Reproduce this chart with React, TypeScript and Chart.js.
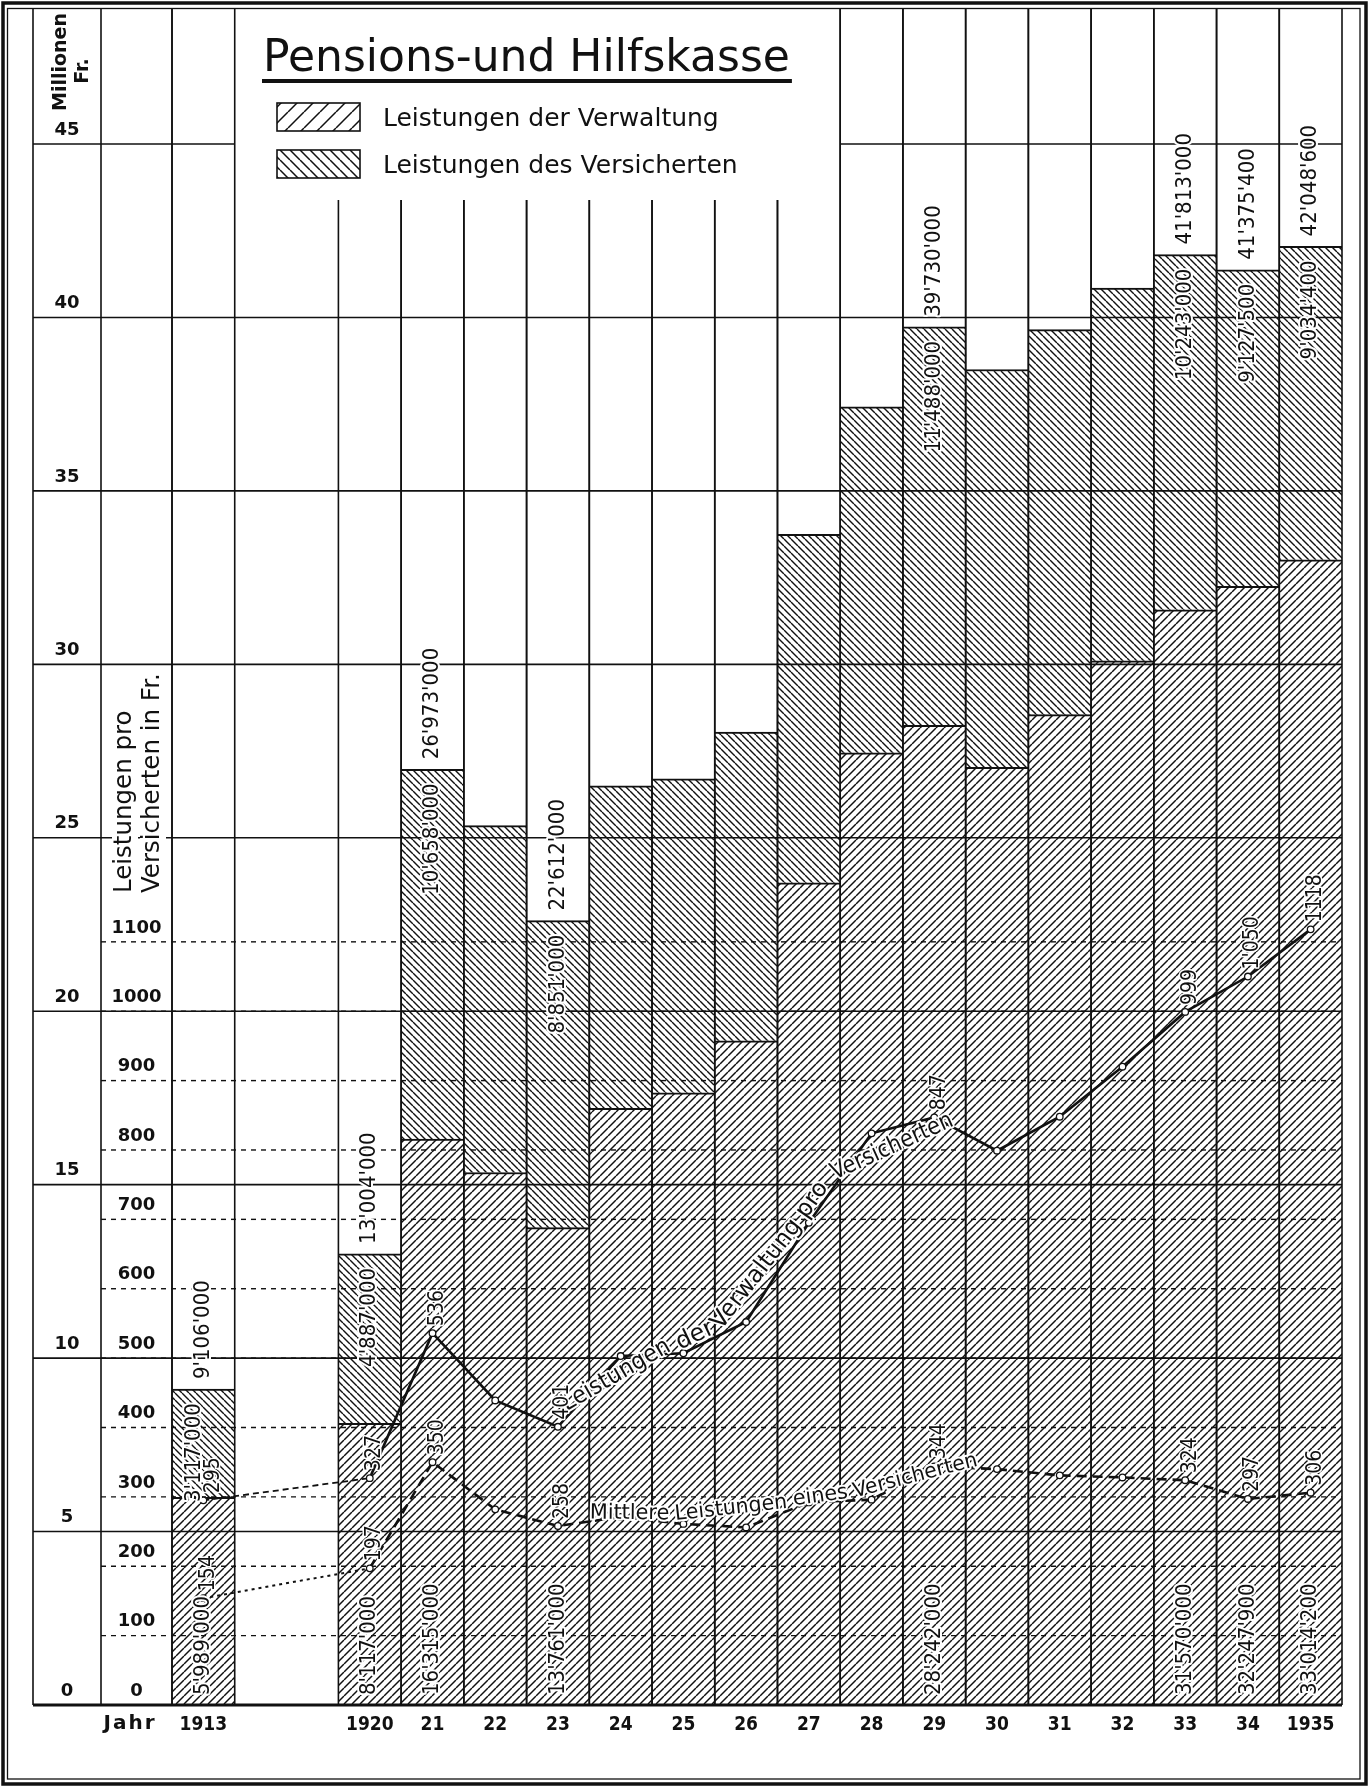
import React, { useEffect, useRef } from 'react';
import { Chart, registerables } from 'chart.js';

Chart.register(...registerables);

// ---------------- data ----------------
const YEARS = ['1913', '1920', '21', '22', '23', '24', '25', '26', '27', '28', '29', '30', '31', '32', '33', '34', '1935'];
// Millionen Fr.
const VERWALTUNG = [5.989, 8.117, 16.315, 15.35, 13.761, 17.2, 17.65, 19.15, 23.7, 27.45, 28.242, 27.03, 28.55, 30.1, 31.57, 32.2479, 33.0142];
const VERSICHERTEN = [3.117, 4.887, 10.658, 10.0, 8.851, 9.3, 9.05, 8.9, 10.05, 9.97, 11.488, 11.47, 11.1, 10.75, 10.243, 9.1275, 9.0344];
// Fr. pro Versicherten
const VERWALTUNG_PRO_VERS = [295, 327, 536, 439, 401, 503, 507, 552, 695, 824, 847, 799, 848, 920, 999, 1050, 1118];
const MITTLERE_LEISTUNG = [154, 197, 350, 282, 258, 271, 261, 256, 292, 296, 344, 340, 331, 328, 324, 297, 306];
const BAR_LABELLED = [1, 1, 1, 0, 1, 0, 0, 0, 0, 0, 1, 0, 0, 0, 1, 1, 1];
const PRO_VERS_LABELS = ['295', '327', '536', '', '401', '', '', '', '', '', '847', '', '', '', '999', "1'050", '1118'];
const MITTLERE_LABELS = ['154', '197', '350', '', '258', '', '', '', '', '', '344', '', '', '', '324', '297', '306'];
const MIO_MAX = 45;
const MIO_STEP = 5;
const FR_STEP = 100;
const FR_TOP_TICK = 1100;
const FR_PER_MIO = 50; // 500 Fr. on the inner scale sit on the 10 Mio. line
const TITLE = 'Pensions-und Hilfskasse';
const LEGEND_VERW = 'Leistungen der Verwaltung';
const LEGEND_VERS = 'Leistungen des Versicherten';
const LINE_LABEL_VERW = 'Leistungen der Verwaltung pro Versicherten';
const LINE_LABEL_MITTEL = 'Mittlere Leistungen eines Versicherten';
const BOX_LAST_YEAR = '27';
const PATH_LABEL_FROM = '23';

// ---------------- layout ----------------
const W = 1369;
const H = 1787;
const FRAME_TOP = 9;
const PLOT_LEFT = 33;
const COL_MIO = 68;
const COL_FR = 71;
const PAD_RIGHT = 27;
const PAD_TOP = 144;
const X_AXIS_H = 82;
const BOX_BOTTOM = 200;
const GAP_SLOTS = 1.653;
const INK = '#111';
const FONT = 'DejaVu Sans';
const FONT_C = 'DejaVu Sans Condensed';

const POS = YEARS.map((_, i) => (i === 0 ? 0 : i + GAP_SLOTS));

function fmtThousands(n: number): string {
  return String(Math.round(n)).replace(/\B(?=(\d{3})+(?!\d))/g, "'");
}
const fmtMio = (v: number) => fmtThousands(v * 1e6);

function makeHatch(ctx: CanvasRenderingContext2D, s: number, dir: string, lw: number) {
  const c = document.createElement('canvas');
  c.width = s;
  c.height = s;
  const g = c.getContext('2d') as CanvasRenderingContext2D;
  g.fillStyle = '#fff';
  g.fillRect(0, 0, s, s);
  g.strokeStyle = INK;
  g.lineWidth = lw;
  g.beginPath();
  for (let k = -1; k <= 1; k++) {
    if (dir === '/') {
      g.moveTo(k * s, s);
      g.lineTo(k * s + s, 0);
    } else {
      g.moveTo(k * s, 0);
      g.lineTo(k * s + s, s);
    }
  }
  g.stroke();
  return ctx.createPattern(c, 'repeat');
}

function line(ctx: CanvasRenderingContext2D, x1: number, y1: number, x2: number, y2: number) {
  ctx.beginPath();
  ctx.moveTo(x1, y1);
  ctx.lineTo(x2, y2);
  ctx.stroke();
}

function haloText(ctx: CanvasRenderingContext2D, t: string, x: number, y: number, halo = 4) {
  ctx.save();
  ctx.lineJoin = 'round';
  ctx.strokeStyle = '#fff';
  ctx.lineWidth = halo;
  ctx.strokeText(t, x, y);
  ctx.restore();
  ctx.fillText(t, x, y);
}

function rotText(ctx: CanvasRenderingContext2D, t: string, x: number, y: number, align: CanvasTextAlign, halo = 4) {
  ctx.save();
  ctx.translate(x, y);
  ctx.rotate(-Math.PI / 2);
  ctx.textAlign = align;
  ctx.textBaseline = 'middle';
  if (halo > 0) haloText(ctx, t, 0, 0, halo);
  else ctx.fillText(t, 0, 0);
  ctx.restore();
}

function wordsAlongPath(ctx: CanvasRenderingContext2D, text: string, pts: { x: number; y: number }[], startDist: number, lift: number) {
  const cum = [0];
  for (let i = 1; i < pts.length; i++) {
    cum.push(cum[i - 1] + Math.hypot(pts[i].x - pts[i - 1].x, pts[i].y - pts[i - 1].y));
  }
  const at = (d: number) => {
    let i = 1;
    while (i < pts.length - 1 && cum[i] < d) i++;
    const t = (d - cum[i - 1]) / (cum[i] - cum[i - 1]);
    return { x: pts[i - 1].x + (pts[i].x - pts[i - 1].x) * t, y: pts[i - 1].y + (pts[i].y - pts[i - 1].y) * t };
  };
  const space = ctx.measureText(' ').width;
  let d = startDist;
  for (const w of text.split(' ')) {
    const ww = ctx.measureText(w).width;
    const a = at(d);
    const b = at(d + ww);
    const chord = Math.hypot(b.x - a.x, b.y - a.y);
    const ang = Math.atan2(b.y - a.y, b.x - a.x);
    ctx.save();
    ctx.translate(a.x, a.y);
    ctx.rotate(ang);
    ctx.scale(Math.min(1, chord / ww), 1);
    ctx.textAlign = 'left';
    ctx.textBaseline = 'alphabetic';
    haloText(ctx, w, 0, -lift, 4);
    ctx.restore();
    d += ww + space;
  }
}

export default function App() {
  const ref = useRef<HTMLCanvasElement | null>(null);

  useEffect(() => {
    const canvas = ref.current as HTMLCanvasElement;
    const ctx0 = canvas.getContext('2d') as CanvasRenderingContext2D;
    const patVerw = makeHatch(ctx0, 8, '/', 1.45);
    const patVers = makeHatch(ctx0, 7, '\\', 1.4);
    const legVerw = makeHatch(ctx0, 16, '/', 1.5);
    const legVers = makeHatch(ctx0, 10, '\\', 1.5);

    const mctx = document.createElement('canvas').getContext('2d') as CanvasRenderingContext2D;
    mctx.font = `bold 18px ${FONT}`;
    const widest = (labels: string[]) => Math.max(...labels.map((s) => mctx.measureText(s).width));
    const mioLabels: string[] = [];
    for (let v = 0; v <= MIO_MAX; v += MIO_STEP) mioLabels.push(String(v));
    const frLabels: string[] = [];
    for (let v = 0; v <= FR_TOP_TICK; v += FR_STEP) frLabels.push(String(v));
    const padMio = COL_MIO / 2 - widest(mioLabels) / 2;
    const padFr = COL_FR / 2 - widest(frLabels) / 2;
    const X_TICK_PAD = 9;

    const drawGrid = (chart: any) => {
      const { ctx, chartArea: ca, scales } = chart;
      const yS = scales.y;
      const y2S = scales.y2;
      const base = yS.getPixelForValue(0);
      const bars = chart.getDatasetMeta(0).data;
      const edges: number[] = [];
      bars.forEach((b: any) => {
        edges.push(b.x - b.width / 2, b.x + b.width / 2);
      });
      const boxL = bars[0].x + bars[0].width / 2;
      const bi = YEARS.indexOf(BOX_LAST_YEAR);
      const boxR = bars[bi].x + bars[bi].width / 2;
      ctx.save();
      ctx.strokeStyle = INK;
      // Fr. dotted lines
      ctx.lineWidth = 1.4;
      ctx.setLineDash([5, 5]);
      y2S.ticks.forEach((t: any) => {
        if (t.value === 0) return;
        const y = y2S.getPixelForValue(t.value);
        line(ctx, yS.right, y, ca.right, y);
      });
      ctx.setLineDash([]);
      // Mio lines
      ctx.lineWidth = 1.6;
      yS.ticks.forEach((t: any) => {
        if (t.value === 0) return;
        const y = yS.getPixelForValue(t.value);
        if (t.value === MIO_MAX) {
          line(ctx, yS.left, y, boxL, y);
          line(ctx, boxR, y, ca.right, y);
        } else {
          line(ctx, yS.left, y, ca.right, y);
        }
      });
      // verticals
      [yS.left, yS.right, y2S.right].forEach((x: number) => line(ctx, x, FRAME_TOP, x, base));
      edges.forEach((x) => {
        const top = x > boxL + 1 && x < boxR - 1 ? BOX_BOTTOM : FRAME_TOP;
        line(ctx, x, top, x, base);
      });
      ctx.lineWidth = 3;
      line(ctx, yS.left, base, ca.right, base);
      ctx.restore();
    };

    const paper = {
      id: 'paper',
      beforeDraw(chart: any) {
        const { ctx } = chart;
        ctx.save();
        ctx.fillStyle = '#fff';
        ctx.fillRect(0, 0, chart.width, chart.height);
        ctx.restore();
        chart.$gridDone = false;
      },
      beforeDatasetDraw(chart: any, args: any) {
        if (!chart.$gridDone && args.meta.type === 'line') {
          drawGrid(chart);
          chart.$gridDone = true;
        }
      },
      afterDraw(chart: any) {
        const { ctx, scales } = chart;
        ctx.save();
        ctx.fillStyle = INK;
        ctx.strokeStyle = INK;

        // frame
        ctx.lineWidth = 3.5;
        ctx.strokeRect(3, 3, W - 6, H - 6);
        ctx.lineWidth = 1.3;
        ctx.strokeRect(7.5, 8.5, 1352.5, 1770.5);

        // title
        ctx.font = `44px ${FONT}`;
        ctx.textAlign = 'left';
        ctx.textBaseline = 'alphabetic';
        ctx.fillText(TITLE, 263, 71);
        const tw = ctx.measureText(TITLE).width;
        ctx.lineWidth = 4;
        line(ctx, 262, 81, 265 + tw, 81);

        // legend
        const sw = [
          { y: 103, pat: legVerw, t: LEGEND_VERW },
          { y: 150, pat: legVers, t: LEGEND_VERS },
        ];
        ctx.font = `25px ${FONT}`;
        sw.forEach((s) => {
          ctx.fillStyle = s.pat as any;
          ctx.fillRect(277, s.y, 83, 28);
          ctx.lineWidth = 1.6;
          ctx.strokeRect(277, s.y, 83, 28);
          ctx.fillStyle = INK;
          ctx.fillText(s.t, 383, s.y + 23);
        });

        // column titles
        ctx.font = `bold 19px ${FONT}`;
        rotText(ctx, 'Millionen', 61, 111, 'left', 0);
        rotText(ctx, 'Fr.', 83, 71, 'center', 0);
        ctx.font = `24.5px ${FONT}`;
        [
          { t: 'Leistungen pro', x: 125 },
          { t: 'Versicherten in Fr.', x: 153 },
        ].forEach((o) => {
          const w = ctx.measureText(o.t).width;
          ctx.save();
          ctx.fillStyle = '#fff';
          ctx.fillRect(o.x - 13, 893 - w - 3, 26, w + 6);
          ctx.restore();
          rotText(ctx, o.t, o.x, 893, 'left', 0);
        });
        ctx.font = `bold 20px ${FONT}`;
        ctx.textAlign = 'center';
        ctx.textBaseline = 'top';
        try {
          (ctx as any).letterSpacing = '2px';
        } catch (e) {}
        ctx.fillText('Jahr', 130, scales.x.top + X_TICK_PAD);
        try {
          (ctx as any).letterSpacing = '0px';
        } catch (e) {}

        const m0 = chart.getDatasetMeta(0).data;
        const m1 = chart.getDatasetMeta(1).data;
        const pv = chart.getDatasetMeta(2).data.map((p: any) => ({ x: p.x, y: p.y }));
        const pm = chart.getDatasetMeta(3).data.map((p: any) => ({ x: p.x, y: p.y }));

        // point labels (measured first, to keep clear of the bar labels)
        const PT_FONT = `21px ${FONT_C}`;
        const BAR_FONT = `22px ${FONT_C}`;
        ctx.font = PT_FONT;
        const ptLabels: any[] = [];
        [
          { labels: PRO_VERS_LABELS, pts: pv },
          { labels: MITTLERE_LABELS, pts: pm },
        ].forEach((s) => {
          s.labels.forEach((t, i) => {
            if (!t) return;
            const w = ctx.measureText(t).width;
            ptLabels.push({ i, t, x: s.pts[i].x + 5, y: s.pts[i].y - 7, y0: s.pts[i].y - 7 - w, y1: s.pts[i].y - 7 });
          });
        });

        ctx.font = BAR_FONT;
        const barLabels: any[] = [];
        YEARS.forEach((_, i) => {
          if (!BAR_LABELLED[i]) return;
          const x = m0[i].x;
          const base = m0[i].base;
          const topV = m1[i].y;
          const a = fmtMio(VERWALTUNG[i]);
          const b = fmtMio(VERSICHERTEN[i]);
          const c = fmtMio(VERWALTUNG[i] + VERSICHERTEN[i]);
          const wa = ctx.measureText(a).width;
          const wb = ctx.measureText(b).width;
          const wc = ctx.measureText(c).width;
          barLabels.push({ i, t: a, x, y: base - 10, align: 'left', y0: base - 10 - wa, y1: base - 10 });
          barLabels.push({ i, t: b, x, y: topV + 14, align: 'right', y0: topV + 14, y1: topV + 14 + wb });
          barLabels.push({ i, t: c, x, y: topV - 10, align: 'left', y0: topV - 10 - wc, y1: topV - 10 });
        });
        barLabels.forEach((bl) => {
          ptLabels.forEach((pl) => {
            if (pl.i === bl.i && bl.y0 < pl.y1 && pl.y0 < bl.y1) {
              bl.x -= 9;
              pl.x += 5;
            }
          });
        });
        barLabels.forEach((bl) => rotText(ctx, bl.t, bl.x, bl.y, bl.align, 4));

        // line labels along the curves
        const iStart = YEARS.indexOf(PATH_LABEL_FROM);
        ctx.font = `24px ${FONT}`;
        wordsAlongPath(ctx, LINE_LABEL_VERW, pv.slice(iStart), 16, 4);
        ctx.font = `21px ${FONT}`;
        wordsAlongPath(ctx, LINE_LABEL_MITTEL, pm.slice(iStart), 32, 3);

        // point value labels
        ctx.font = PT_FONT;
        ptLabels.forEach((pl) => rotText(ctx, pl.t, pl.x, pl.y, 'left', 3));
        ctx.restore();
      },
    };

    const tickFont = { family: FONT, size: 18, weight: 'bold' };
    const lineBase = {
      type: 'line',
      xAxisID: 'x',
      yAxisID: 'y2',
      borderColor: INK,
      borderWidth: 2.6,
      pointRadius: 3.3,
      pointBackgroundColor: '#fff',
      pointBorderColor: INK,
      pointBorderWidth: 1.3,
      tension: 0,
      fill: false,
    };

    const config: any = {
      type: 'bar',
      data: {
        datasets: [
          {
            type: 'bar',
            label: LEGEND_VERW,
            data: VERWALTUNG.map((v, i) => ({ x: POS[i], y: v })),
            backgroundColor: patVerw,
            borderColor: INK,
            borderWidth: { top: 2, right: 0, bottom: 0, left: 0 },
            borderSkipped: false,
            barPercentage: 1,
            categoryPercentage: 1,
            xAxisID: 'x',
            yAxisID: 'y',
            stack: 'mio',
            order: 2,
          },
          {
            type: 'bar',
            label: LEGEND_VERS,
            data: VERSICHERTEN.map((v, i) => ({ x: POS[i], y: v })),
            backgroundColor: patVers,
            borderColor: INK,
            borderWidth: { top: 2, right: 0, bottom: 0, left: 0 },
            borderSkipped: false,
            barPercentage: 1,
            categoryPercentage: 1,
            xAxisID: 'x',
            yAxisID: 'y',
            stack: 'mio',
            order: 2,
          },
          {
            ...lineBase,
            label: LINE_LABEL_VERW,
            data: VERWALTUNG_PRO_VERS.map((v, i) => ({ x: POS[i], y: v })),
            order: 1,
            segment: {
              borderDash: (c: any) => (c.p0DataIndex === 0 ? [6, 4] : undefined),
              borderWidth: (c: any) => (c.p0DataIndex === 0 ? 1.8 : undefined),
            },
          },
          {
            ...lineBase,
            label: LINE_LABEL_MITTEL,
            data: MITTLERE_LEISTUNG.map((v, i) => ({ x: POS[i], y: v })),
            borderDash: [10, 6],
            order: 0,
            segment: {
              borderDash: (c: any) => (c.p0DataIndex === 0 ? [3, 4] : undefined),
              borderWidth: (c: any) => (c.p0DataIndex === 0 ? 2 : undefined),
            },
          },
        ],
      },
      options: {
        responsive: false,
        animation: false,
        devicePixelRatio: 1,
        layout: { padding: { left: PLOT_LEFT, right: PAD_RIGHT, top: PAD_TOP, bottom: 0 } },
        plugins: { legend: { display: false }, tooltip: { enabled: false }, title: { display: false } },
        events: [],
        scales: {
          x: {
            type: 'linear',
            min: POS[0] - 0.5,
            max: POS[POS.length - 1] + 0.5,
            offset: false,
            stacked: true,
            grid: { display: false, drawTicks: false, offset: false },
            border: { display: false },
            afterBuildTicks: (s: any) => {
              s.ticks = POS.map((v) => ({ value: v }));
            },
            afterFit: (s: any) => {
              s.height = X_AXIS_H;
            },
            ticks: {
              autoSkip: false,
              maxRotation: 0,
              minRotation: 0,
              padding: X_TICK_PAD,
              color: INK,
              font: { family: FONT_C, size: 19, weight: 'bold' },
              callback: (_v: any, i: number) => YEARS[i],
            },
          },
          y: {
            type: 'linear',
            position: 'left',
            weight: 1,
            min: 0,
            max: MIO_MAX,
            stacked: true,
            grid: { display: false, drawTicks: false },
            border: { display: false },
            afterFit: (s: any) => {
              s.width = COL_MIO;
            },
            ticks: {
              stepSize: MIO_STEP,
              autoSkip: false,
              maxTicksLimit: 100,
              crossAlign: 'center',
              labelOffset: -14,
              padding: padMio,
              color: INK,
              font: tickFont,
              callback: (v: any) => String(v),
            },
          },
          y2: {
            type: 'linear',
            position: 'left',
            weight: 0,
            min: 0,
            max: MIO_MAX * FR_PER_MIO,
            stacked: false,
            grid: { display: false, drawTicks: false },
            border: { display: false },
            afterBuildTicks: (s: any) => {
              s.ticks = s.ticks.filter((t: any) => t.value <= FR_TOP_TICK);
            },
            afterFit: (s: any) => {
              s.width = COL_FR;
            },
            ticks: {
              stepSize: FR_STEP,
              autoSkip: false,
              maxTicksLimit: 100,
              crossAlign: 'center',
              labelOffset: -14,
              padding: padFr,
              color: INK,
              font: tickFont,
              callback: (v: any) => String(v),
            },
          },
        },
      },
      plugins: [paper],
    };

    const chart = new Chart(canvas, config);
    return () => chart.destroy();
  }, []);

  return (
    <div style={{ position: 'absolute', left: 0, top: 0, width: W, height: H, background: '#fff' }}>
      <canvas ref={ref} width={W} height={H} style={{ display: 'block', width: W, height: H }} />
    </div>
  );
}
